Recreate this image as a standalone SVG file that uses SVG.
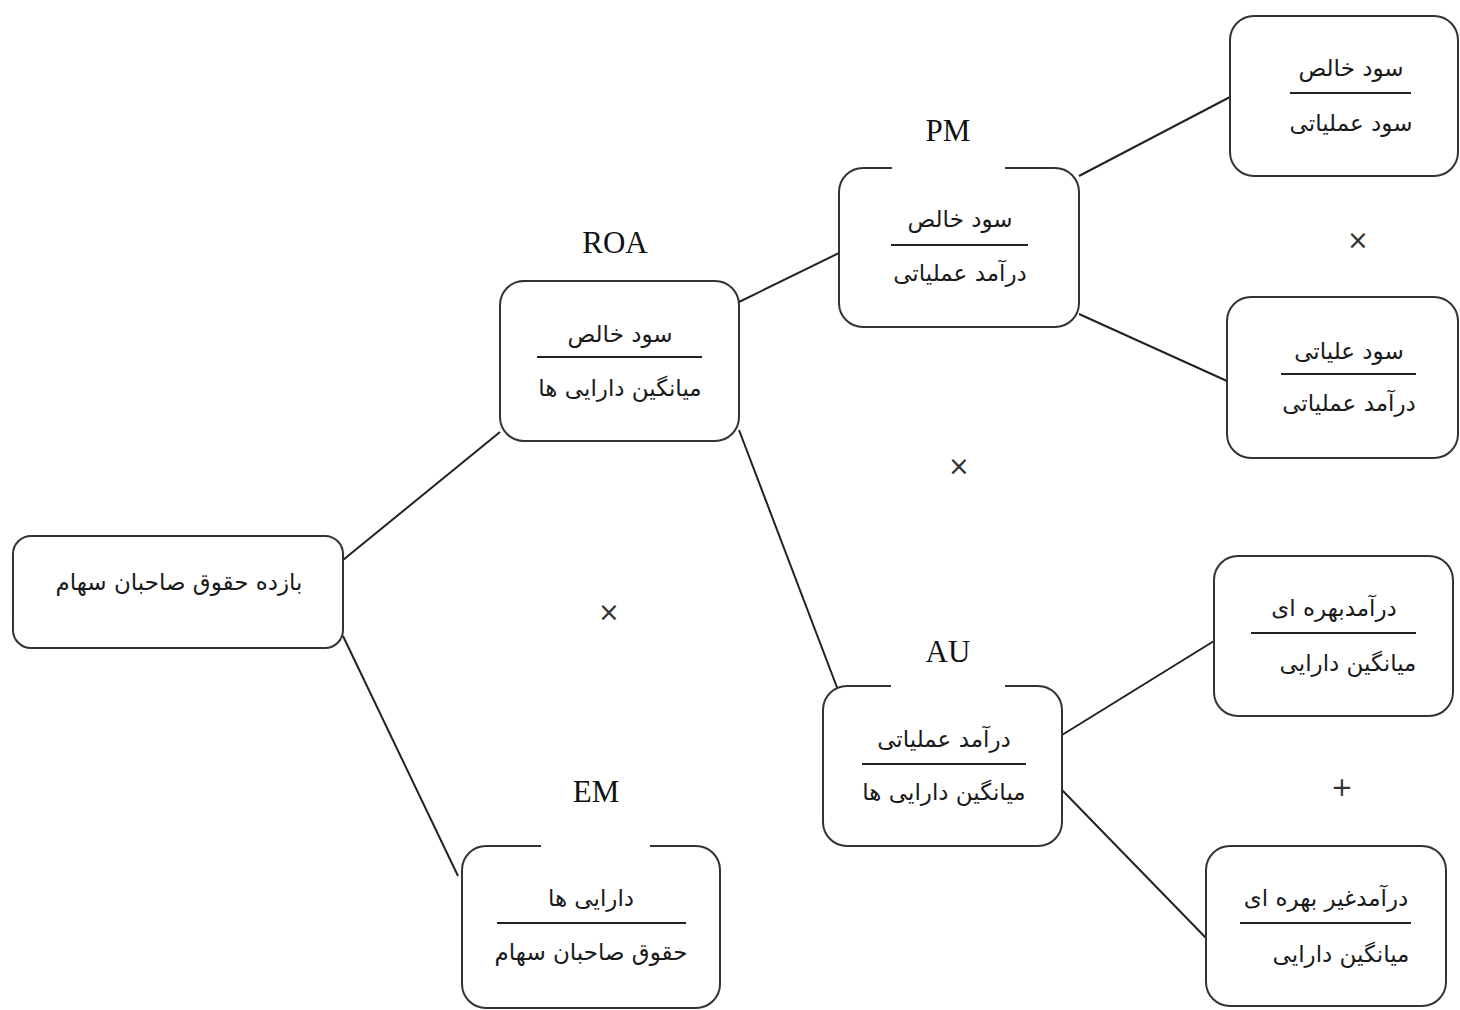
<svg xmlns="http://www.w3.org/2000/svg" width="1460" height="1010" viewBox="0 0 1460 1010">
<style>
.box{fill:#fff;stroke:#333;stroke-width:2}
.gap{stroke:#fff;stroke-width:5}
.bar{stroke:#222;stroke-width:2}
.fa{font-family:"DejaVu Sans",sans-serif;font-size:23px;fill:#1a1a1a;text-anchor:middle;direction:rtl}
.ttl{font-family:"Liberation Serif",serif;font-size:31px;fill:#111;text-anchor:middle}
.op{font-family:"DejaVu Sans",sans-serif;font-size:26px;fill:#333;text-anchor:middle}
.con{stroke:#222;stroke-width:2;fill:none}
</style>
<rect width="1460" height="1010" fill="#fff"/>
<g id="connectors">
<line class="con" x1="343" y1="560" x2="500" y2="432"/>
<line class="con" x1="343" y1="636" x2="458" y2="876"/>
<line class="con" x1="739" y1="302" x2="839" y2="253"/>
<line class="con" x1="739" y1="430" x2="838" y2="690"/>
<line class="con" x1="1079" y1="176" x2="1230" y2="97"/>
<line class="con" x1="1079" y1="314" x2="1227" y2="381"/>
<line class="con" x1="1062" y1="735" x2="1214" y2="641"/>
<line class="con" x1="1062" y1="790" x2="1206" y2="938"/>
</g>
<g id="root">
<rect class="box" x="13" y="536" width="330" height="112" rx="18"/>
<text class="fa" x="179" y="590">بازده حقوق صاحبان سهام</text>
</g>
<g id="roa">
<text class="ttl" x="615" y="253">ROA</text>
<rect class="box" x="500" y="281" width="239" height="160" rx="24"/>
<text class="fa" x="620" y="342">سود خالص</text>
<line class="bar" x1="537" y1="357" x2="702" y2="357"/>
<text class="fa" x="620" y="396">میانگین دارایی ها</text>
</g>
<g id="pm">
<text class="ttl" x="948" y="141">PM</text>
<rect class="box" x="839" y="168" width="240" height="159" rx="24"/>
<line class="gap" x1="892" y1="168" x2="1005" y2="168"/>
<text class="fa" x="960" y="227">سود خالص</text>
<line class="bar" x1="891" y1="245" x2="1028" y2="245"/>
<text class="fa" x="960" y="281">درآمد عملیاتی</text>
</g>
<g id="pm-top">
<rect class="box" x="1230" y="16" width="228" height="160" rx="24"/>
<text class="fa" x="1351" y="76">سود خالص</text>
<line class="bar" x1="1290" y1="93" x2="1411" y2="93"/>
<text class="fa" x="1351" y="131">سود عملیاتی</text>
</g>
<g id="pm-bottom">
<rect class="box" x="1227" y="297" width="231" height="161" rx="24"/>
<text class="fa" x="1349" y="359">سود علیاتی</text>
<line class="bar" x1="1281" y1="374" x2="1416" y2="374"/>
<text class="fa" x="1349" y="411">درآمد عملیاتی</text>
</g>
<g id="au">
<text class="ttl" x="948" y="662">AU</text>
<rect class="box" x="823" y="686" width="239" height="160" rx="24"/>
<line class="gap" x1="891" y1="686" x2="1005" y2="686"/>
<text class="fa" x="944" y="747">درآمد عملیاتی</text>
<line class="bar" x1="862" y1="764" x2="1026" y2="764"/>
<text class="fa" x="944" y="800">میانگین دارایی ها</text>
</g>
<g id="au-top">
<rect class="box" x="1214" y="556" width="239" height="160" rx="24"/>
<text class="fa" x="1334" y="616">درآمدبهره ای</text>
<line class="bar" x1="1251" y1="633" x2="1416" y2="633"/>
<text class="fa" x="1348" y="671">میانگین دارایی</text>
</g>
<g id="au-bottom">
<rect class="box" x="1206" y="846" width="240" height="160" rx="24"/>
<text class="fa" x="1326" y="906">درآمدغیر بهره ای</text>
<line class="bar" x1="1240" y1="923" x2="1411" y2="923"/>
<text class="fa" x="1341" y="962">میانگین دارایی</text>
</g>
<g id="em">
<text class="ttl" x="596" y="802">EM</text>
<rect class="box" x="462" y="846" width="258" height="162" rx="24"/>
<line class="gap" x1="541" y1="846" x2="650" y2="846"/>
<text class="fa" x="591" y="906">دارایی ها</text>
<line class="bar" x1="497" y1="923" x2="686" y2="923"/>
<text class="fa" x="591" y="960">حقوق صاحبان سهام</text>
</g>
<g id="operators">
<text class="op" x="1358" y="249">×</text>
<text class="op" x="959" y="475">×</text>
<text class="op" x="609" y="621">×</text>
<text class="op" x="1342" y="796">+</text>
</g>
</svg>
